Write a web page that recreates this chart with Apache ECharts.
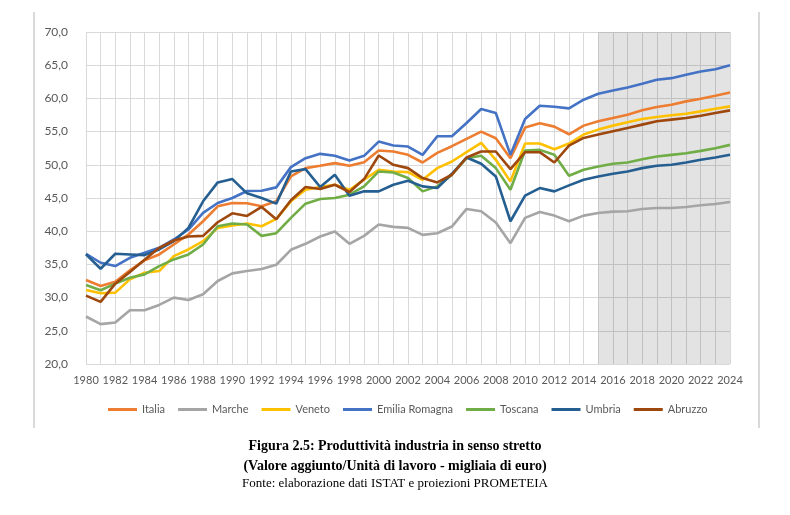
<!DOCTYPE html>
<html>
<head>
<meta charset="utf-8">
<script src="https://cdn.jsdelivr.net/npm/echarts@6/dist/echarts.min.js"></script>
<style>
html,body{margin:0;padding:0;background:#fff;}
#chart{width:790px;height:515px;}
</style>
</head>
<body>
<div id="chart"></div>
<script>
// anni (asse x)
var anni = [];
for (var a = 1980; a <= 2024; a++) { anni.push(String(a)); }

// valori (migliaia di euro)
var italia = [32.65,31.75,32.4,34.1,35.6,36.5,38,39.5,41.5,43.75,44.25,44.2,43.75,44.5,48.25,49.5,49.85,50.25,49.85,50.4,52.15,52,51.5,50.35,51.8,52.8,53.9,55,54,51,55.6,56.25,55.75,54.6,55.9,56.55,57.05,57.55,58.2,58.7,59.05,59.55,59.95,60.4,60.9];
var marche = [27.15,26,26.25,28.1,28.1,28.9,30,29.65,30.5,32.5,33.65,34,34.3,34.95,37.2,38.1,39.2,39.95,38.1,39.3,41,40.65,40.5,39.45,39.7,40.7,43.35,43,41.3,38.2,42,42.9,42.35,41.5,42.35,42.75,42.95,43,43.35,43.5,43.5,43.65,43.9,44.1,44.4];
var veneto = [31.15,30.65,30.75,32.75,33.75,34,36.25,37.25,38.5,40.5,40.85,41.15,40.75,41.85,44.5,46.25,46.65,47,46.25,47.75,49.25,49,48.9,47.75,49.5,50.5,51.9,53.3,50.75,47.5,53.2,53.2,52.35,53.2,54.55,55.3,55.9,56.4,56.9,57.2,57.45,57.7,58.05,58.45,58.8];
var emilia = [36.6,35.25,34.75,36,36.75,37.5,38.75,40.25,42.75,44.25,45,46.05,46.1,46.6,49.65,51,51.65,51.35,50.65,51.35,53.5,52.9,52.75,51.5,54.3,54.3,56.3,58.4,57.8,51.5,56.9,58.9,58.75,58.5,59.8,60.7,61.2,61.65,62.2,62.8,63.05,63.55,64.05,64.4,65];
var toscana = [31.9,31.1,32.1,33,33.5,34.75,35.75,36.5,38,40.75,41.15,41,39.3,39.7,42,44.15,44.85,45,45.5,46.75,49,48.85,48,46,46.75,48.5,51,51.35,49.5,46.25,52.15,52.25,51.5,48.35,49.25,49.75,50.15,50.35,50.85,51.25,51.5,51.75,52.1,52.5,53];
var umbria = [36.5,34.35,36.6,36.5,36.4,37.25,38.5,40.5,44.5,47.35,47.85,45.7,45,44.15,49,49.35,46.65,48.5,45.35,46,46,47,47.6,46.75,46.5,48.65,51.1,50.15,48.25,41.5,45.35,46.5,46,46.9,47.75,48.25,48.65,49,49.5,49.85,50,50.35,50.75,51.1,51.5];
var abruzzo = [30.3,29.35,32.1,33.85,35.7,37.5,38.6,39.2,39.3,41.35,42.7,42.3,43.65,41.8,44.65,46.65,46.35,47,45.9,47.85,51.4,50,49.5,48,47.35,48.5,51.1,52,52,49.35,51.9,51.9,50.35,52.9,54.05,54.55,55.05,55.55,56.05,56.55,56.8,57.05,57.4,57.8,58.2];

var nomi = ['Italia','Marche','Veneto','Emilia Romagna','Toscana','Umbria','Abruzzo'];
var colori = ['#ED7D31','#A5A5A5','#FFC000','#4472C4','#70AD47','#255E91','#9E480E'];
var serie = [italia, marche, veneto, emilia, toscana, umbria, abruzzo];

// periodo delle proiezioni
var inizioProiezioni = '2015';
var fineProiezioni = '2024';

var chart = echarts.init(document.getElementById('chart'));

var series = [];
for (var i = 0; i < serie.length; i++) {
	var s = {
		name: nomi[i],
		type: 'line',
		data: serie[i],
		symbol: 'none',
		smooth: false,
		lineStyle: { width: 2.6, color: colori[i] },
		itemStyle: { color: colori[i] },
		z: 3 + i
	};
	if (i == 0) {
		s.markArea = {
			silent: true,
			itemStyle: { color: 'rgba(0,0,0,0.11)' },
			data: [[{ xAxis: inizioProiezioni }, { xAxis: fineProiezioni }]]
		};
	}
	series.push(s);
}

var option = {
	animation: false,
	backgroundColor: '#fff',
	textStyle: { fontFamily: 'Lato, "Noto Sans", sans-serif' },
	grid: { left: 86, right: 60, top: 32, bottom: 151 },
	legend: {
		data: nomi,
		left: 108,
		top: 404,
		padding: 0,
		itemWidth: 29,
		itemHeight: 3,
		itemGap: 13,
		icon: 'rect',
		textStyle: { fontSize: 11, color: '#595959', fontFamily: 'Lato' }
	},
	xAxis: {
		type: 'category',
		data: anni,
		boundaryGap: false,
		axisLine: { show: false },
		axisTick: { show: false },
		axisLabel: { interval: 1, fontSize: 11, color: '#595959', margin: 11, fontFamily: 'Lato' },
		splitLine: { show: true, interval: 0, lineStyle: { color: '#d9d9d9', width: 1 } }
	},
	yAxis: {
		type: 'value',
		min: 20,
		max: 70,
		interval: 5,
		axisLine: { show: false },
		axisTick: { show: false },
		axisLabel: {
			fontSize: 12, color: '#595959', margin: 18, fontFamily: 'Lato',
			formatter: function (v) { return v.toFixed(1).replace('.', ','); }
		},
		splitLine: { lineStyle: { color: '#d9d9d9', width: 1 } }
	},
	graphic: [
		{ type: 'line', shape: { x1: 34, y1: 12, x2: 34, y2: 428 }, style: { stroke: '#d9d9d9', lineWidth: 2 } },
		{ type: 'line', shape: { x1: 759, y1: 12, x2: 759, y2: 428 }, style: { stroke: '#d9d9d9', lineWidth: 2 } },
		{ type: 'text', x: 395, y: 446, style: { text: 'Figura 2.5: Produttività industria in senso stretto', align: 'center', verticalAlign: 'middle', font: 'bold 14px "Liberation Serif", "DejaVu Serif", serif', fill: '#000' } },
		{ type: 'text', x: 395, y: 466, style: { text: '(Valore aggiunto/Unità di lavoro - migliaia di euro)', align: 'center', verticalAlign: 'middle', font: 'bold 14px "Liberation Serif", "DejaVu Serif", serif', fill: '#000' } },
		{ type: 'text', x: 395, y: 484, style: { text: 'Fonte: elaborazione dati ISTAT e proiezioni PROMETEIA', align: 'center', verticalAlign: 'middle', font: '13px "Liberation Serif", "DejaVu Serif", serif', fill: '#000' } }
	],
	series: series
};

chart.setOption(option);
</script>
</body>
</html>
